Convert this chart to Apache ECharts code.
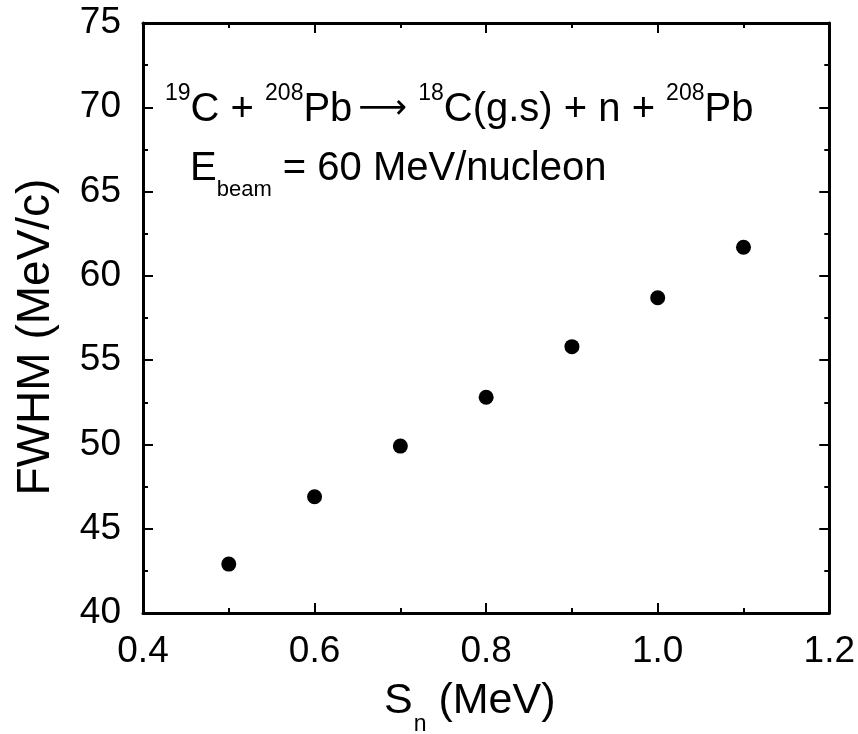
<!DOCTYPE html>
<html><head><meta charset="utf-8">
<script src="https://cdn.jsdelivr.net/npm/echarts@6/dist/echarts.min.js"></script>
<style>html,body{margin:0;padding:0;background:#fff}#c{width:858px;height:734px}</style>
</head><body><div id="c"></div>
<script>
var sn = [0.5, 0.6, 0.7, 0.8, 0.9, 1.0, 1.1];
var fwhm = [42.9, 46.9, 49.9, 52.8, 55.8, 58.7, 61.7];
var yTitle = 'FWHM (MeV/c)';
var FONT = 'Liberation Sans, Arial, Helvetica, sans-serif';
var chart = echarts.init(document.getElementById('c'));
var axisCommon = {
  axisLine: {show: true, onZero: false, lineStyle: {color: '#000', width: 3}},
  axisTick: {show: true, inside: true, length: 10, lineStyle: {color: '#000', width: 2}},
  minorTick: {show: true, splitNumber: 2, length: 5, lineStyle: {color: '#000', width: 2}},
  splitLine: {show: false}
};
chart.setOption({
  animation: false,
  backgroundColor: '#fff',
  grid: {left: 143, right: 26, top: 23, bottom: 121, containLabel: false},
  xAxis: [Object.assign({type: 'value', min: 0.4, max: 1.2, interval: 0.2,
    axisLabel: {color: '#000', fontSize: 37, fontFamily: FONT, margin: 20, formatter: function(v){return v.toFixed(1);}}}, axisCommon),
    Object.assign({type: 'value', position: 'top', min: 0.4, max: 1.2, interval: 0.2, axisLabel: {show: false}}, axisCommon)],
  yAxis: [Object.assign({type: 'value', min: 40, max: 75, interval: 5,
    axisLabel: {color: '#000', fontSize: 37, fontFamily: FONT, margin: 22}}, axisCommon),
    Object.assign({type: 'value', position: 'right', min: 40, max: 75, interval: 5, axisLabel: {show: false}}, axisCommon)],
  series: [{type: 'scatter', data: sn.map(function(x, i){return [x, fwhm[i]];}), symbol: 'circle', symbolSize: 15, itemStyle: {color: '#000', opacity: 1}}],
  graphic: [
    {type: 'text', left: 384, top: 680, style: {text: '{m|S}{s|n}{m| (MeV)}', rich: {
      m: {fontSize: 43, fontFamily: FONT, fill: '#000', verticalAlign: 'top', lineHeight: 56},
      s: {fontSize: 23, fontFamily: FONT, fill: '#000', verticalAlign: 'bottom', lineHeight: 56, padding: [0,0,0,1]}}}},
    {type: 'text', x: 36, y: 337, rotation: Math.PI/2, style: {text: yTitle, fontSize: 46, fontFamily: FONT, fill: '#000', textAlign: 'center', textVerticalAlign: 'middle'}},
    {type: 'text', left: 165, top: 82, style: {text: '{sup|19}{m|C + }{sup|208}{m|Pb}{a|\u27F6}{m| }{sup|18}{m|C(g.s) + n + }{sup|208}{m|Pb}', rich: {
      m: {fontSize: 40, fontFamily: FONT, fill: '#000', verticalAlign: 'bottom', lineHeight: 48},
      a: {fontSize: 34, fontFamily: 'DejaVu Sans, ' + FONT, fill: '#000', verticalAlign: 'bottom', lineHeight: 48, padding: [0, 0, 4, 6]},
      sup: {fontSize: 23, fontFamily: FONT, fill: '#000', verticalAlign: 'top', lineHeight: 48}}}},
    {type: 'text', left: 190, top: 149, style: {text: '{m|E}{sub|beam}{m| = 60 MeV/nucleon}', rich: {
      m: {fontSize: 40, fontFamily: FONT, fill: '#000', verticalAlign: 'top', lineHeight: 52},
      sub: {fontSize: 22, fontFamily: FONT, fill: '#000', verticalAlign: 'bottom', lineHeight: 52}}}}
  ]
});
</script></body></html>
